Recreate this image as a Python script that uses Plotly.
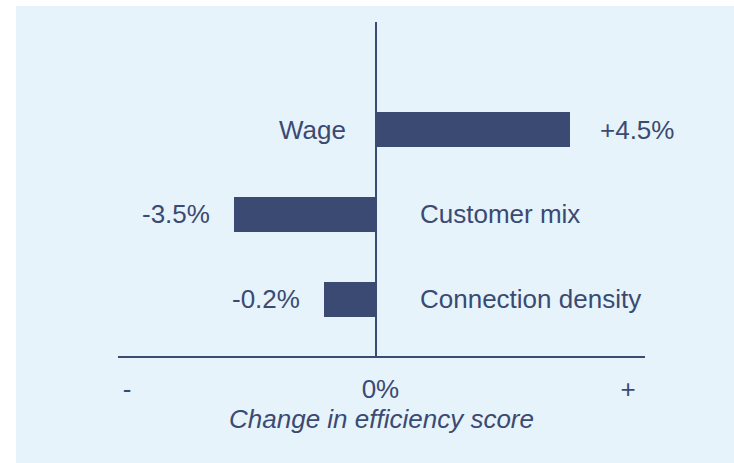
import plotly.graph_objects as go

# Data
categories = ["Wage", "Customer mix", "Connection density"]
value_labels = ["+4.5%", "-3.5%", "-0.2%"]
# bar lengths as drawn (illustrative scale, in the chart's own units)
bar_lengths = [4.5, -3.3, -1.2]
tick_positions = [-5.78, 0.1, 5.85]
tick_labels = ["-", "0%", "+"]
axis_title = "Change in efficiency score"

NAVY = "#3b4a72"
FONT = "Liberation Sans, Arial, sans-serif"
FS = 26

fig = go.Figure(
    go.Bar(
        x=bar_lengths,
        y=categories,
        orientation="h",
        marker=dict(color=NAVY, line=dict(width=0)),
        width=0.42,
        hoverinfo="skip",
    )
)

annotations = []
for cat, length, lab in zip(categories, bar_lengths, value_labels):
    pos = length >= 0
    # value label beyond bar end
    annotations.append(dict(
        x=length, y=cat, xref="x", yref="y", text=lab, showarrow=False,
        xanchor="left" if pos else "right", xshift=28 if pos else -22,
        font=dict(family=FONT, size=FS, color=NAVY),
    ))
    # category label on the other side of zero
    annotations.append(dict(
        x=0, y=cat, xref="x", yref="y", text=cat, showarrow=False,
        xanchor="right" if pos else "left", xshift=-28 if pos else 42,
        font=dict(family=FONT, size=FS, color=NAVY),
    ))

fig.update_layout(
    width=734,
    height=463,
    margin=dict(l=0, r=0, t=0, b=0),
    paper_bgcolor="white",
    plot_bgcolor="rgba(0,0,0,0)",
    showlegend=False,
    bargap=0,
    annotations=annotations,
    shapes=[dict(
        type="rect", xref="paper", yref="paper",
        x0=16 / 734, x1=1, y0=0, y1=1 - 6 / 463,
        fillcolor="#e6f3fb", line=dict(width=0), layer="below",
    )],
    xaxis=dict(
        domain=[118 / 734, 645 / 734],
        range=[-5.99, 6.24],
        showgrid=False,
        zeroline=True, zerolinecolor=NAVY, zerolinewidth=2,
        showline=True, linecolor=NAVY, linewidth=2,
        tickmode="array", tickvals=tick_positions, ticktext=tick_labels,
        ticks="", ticklabelstandoff=9,
        tickfont=dict(family=FONT, size=FS, color=NAVY),
        title=dict(text="<i>" + axis_title + "</i>", standoff=6,
                   font=dict(family=FONT, size=FS, color=NAVY)),
        fixedrange=True,
    ),
    yaxis=dict(
        domain=[107 / 463, 441 / 463],
        type="category",
        categoryorder="array", categoryarray=categories,
        range=[2.665, -1.265],
        showgrid=False, zeroline=False, showline=False,
        showticklabels=False, ticks="",
        fixedrange=True,
    ),
)

fig.write_html(
    "out.html",
    config={"displayModeBar": False},
    post_script="document.body.style.margin='0';document.body.style.overflow='hidden';",
)
